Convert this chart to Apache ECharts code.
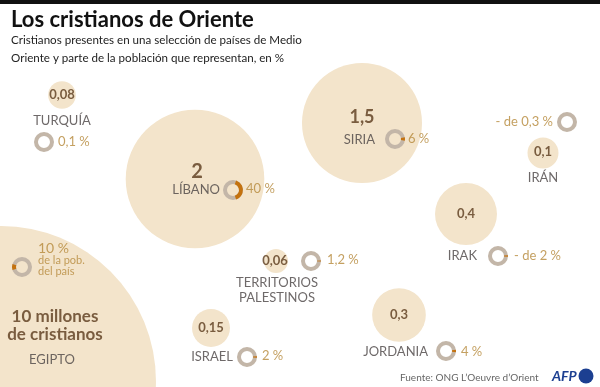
<!DOCTYPE html>
<html><head><meta charset="utf-8">
<script src="https://cdn.jsdelivr.net/npm/echarts@6/dist/echarts.min.js"></script>
<style>html,body{margin:0;padding:0;background:#fff}#c{width:600px;height:387px}</style>
</head><body><div id="c"></div>
<script>
// ---- data ----
var countries = ['TURQUÍA','LÍBANO','SIRIA','IRÁN','IRAK','TERRITORIOS\nPALESTINOS','ISRAEL','JORDANIA','EGIPTO'];
var christiansMillions = [0.08, 2, 1.5, 0.1, 0.4, 0.06, 0.15, 0.3, 10];
var christiansLabels = ['0,08','2','1,5','0,1','0,4','0,06','0,15','0,3','10 millones\nde cristianos'];
var sharePct = [0.1, 40, 6, 0.3, 2, 1.2, 2, 4, 10];
var shareLabels = ['0,1 %','40 %','6 %','- de 0,3 %','- de 2 %','1,2 %','2 %','4 %','10 %'];

// ---- layout (positions on a 600x387 canvas-sized value grid) ----
var bubblePos = [[62,95],[195,179],[362,123],[543,153],[466,214],[276,261],[211,328],[399,315],[1,381]];
var valuePos  = [[62,95],[197,172],[362,117],[543,152],[466,214],[275,261],[211,328],[399,315],[55,326]];
var namePos   = [[62,121],[220,190],[375,140],[543,178],[477,256],[277,290],[233,357],[428,352],[52,360]];
var nameAlign = ['center','right','right','center','right','center','right','right','center'];
var ringPos   = [[44,142],[233,190],[395,139],[567,122],[498,256],[311,261],[247,357],[446,351],[22,267]];
var ringSide  = [0,0,0,0,0,0,0,0,180];
var sharePos  = [[58,142],[246,189],[408,139],[553,122],[514,256],[327,260],[262,356],[461,352],[38,259]];
var shareAlign= ['left','left','left','right','left','left','left','left','left'];

var BUBBLE = '#f3e4cb', NUM = '#5a391b', NAME = '#4a4443', PCT = '#b5883a', GREY = '#c3b6a8', ORANGE = '#c4720f';
var FONT = 'Lato';

var chart = echarts.init(document.getElementById('c'), null, {renderer:'canvas'});

function textSeries(name, pos, fmt, style, alignArr, z) {
  return {
    type:'scatter', name:name, z:z||5, symbolSize:0, silent:true,
    data: pos.map(function(p,i){ return {value:[p[0],p[1]], label:{align: alignArr? alignArr[i]:'center'}}; }),
    label:Object.assign({show:true, position:'inside', formatter:function(pr){return fmt(pr.dataIndex);}, fontFamily:FONT, verticalAlign:'middle'}, style)
  };
}

var egyptShare = function(i){ return i===8 ? '{c|10 %}\n{b|de la pob.}\n{b|del país}' : '{a|'+shareLabels[i]+'}'; };

var option = {
  animation:false,
  grid:{left:0,right:0,top:0,bottom:0},
  xAxis:{type:'value', min:0, max:600, show:false},
  yAxis:{type:'value', min:0, max:387, inverse:true, show:false},
  graphic:[
    {type:'rect', left:0, top:0, shape:{width:600,height:4}, style:{fill:'#111'}},
    {type:'text', x:11, y:20, style:{text:'Los cristianos de Oriente', fontFamily:FONT, fontSize:22, fontWeight:'bold', fill:'#111', textVerticalAlign:'middle'}},
    {type:'text', x:11, y:40, style:{text:'Cristianos presentes en una selección de países de Medio', fontFamily:FONT, fontSize:11.6, fill:'#222', textVerticalAlign:'middle'}},
    {type:'text', x:11, y:58, style:{text:'Oriente y parte de la población que representan, en %', fontFamily:FONT, fontSize:11.6, fill:'#222', textVerticalAlign:'middle'}},
    {type:'text', left:400, top:373, style:{text:'Fuente: ONG L\u2019Oeuvre d\u2019Orient', fontFamily:FONT, fontSize:10, fill:'#666'}},
    {type:'text', left:552, top:369, style:{text:'AFP', fontFamily:FONT, fontSize:14, fontWeight:'bold', fontStyle:'italic', fill:'#1c3f91'}},
    {type:'circle', shape:{cx:586, cy:376, r:7.5}, style:{fill:'#1c3f91'}}
  ],
  series:[
    {
      type:'scatter', z:1, silent:true,
      data: bubblePos.map(function(p,i){ return [p[0],p[1],christiansMillions[i]]; }),
      symbolSize:function(v){ return 98*Math.sqrt(v[2]); },
      itemStyle:{color:BUBBLE, opacity:1}
    },
    {
      type:'custom', z:3, silent:true,
      data: ringPos.map(function(p,i){ return [p[0],p[1],sharePct[i],ringSide[i]]; }),
      renderItem:function(params, api){
        var c = api.coord([api.value(0), api.value(1)]);
        var pct = api.value(2), side = api.value(3)*Math.PI/180;
        var half = pct/100*Math.PI;
        return {type:'group', children:[
          {type:'sector', shape:{cx:c[0],cy:c[1],r:10,r0:6,startAngle:0,endAngle:Math.PI*2}, style:{fill:GREY}},
          {type:'sector', shape:{cx:c[0],cy:c[1],r:10,r0:6,startAngle:side-half,endAngle:side+half,clockwise:true}, style:{fill:ORANGE}}
        ]};
      }
    },
    textSeries('values', valuePos, function(i){ return christiansLabels[i]; },
      {color:NUM, fontWeight:'bold', fontSize:13, lineHeight:17}, null, 5),
    textSeries('names', namePos, function(i){ return countries[i]; },
      {color:NAME, fontSize:13, lineHeight:15}, nameAlign, 5),
    textSeries('shares', sharePos, egyptShare,
      {color:PCT, fontSize:13, rich:{
        a:{fontFamily:FONT, fontSize:13, color:PCT, lineHeight:13},
        c:{fontFamily:FONT, fontSize:14, color:PCT, lineHeight:13},
        b:{fontFamily:FONT, fontSize:11, color:PCT, lineHeight:11}}}, shareAlign, 5)
  ]
};
// bigger fonts for Líbano, Siria and Egipto values
option.series[2].data[1].label.fontSize = 20;
option.series[2].data[2].label.fontSize = 18;
option.series[2].data[8].label.fontSize = 17;
option.series[2].data[8].label.lineHeight = 18;
chart.setOption(option);
</script></body></html>
